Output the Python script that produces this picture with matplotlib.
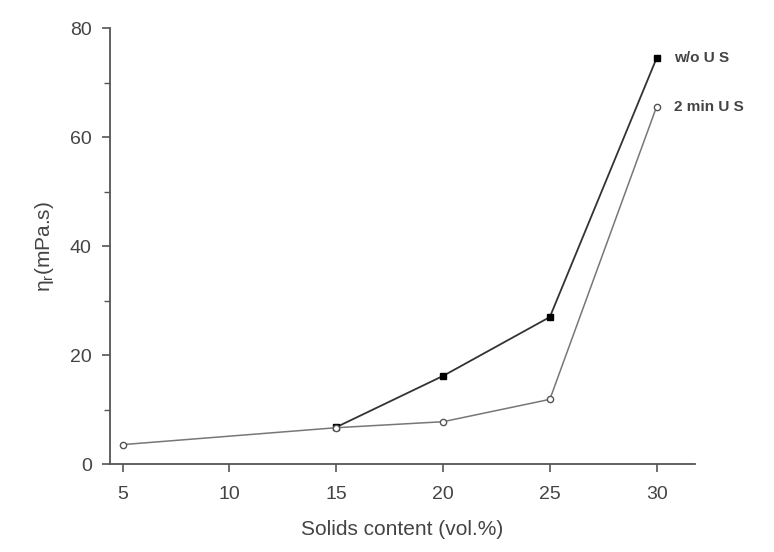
import matplotlib.pyplot as plt

plt.rcParams['font.family'] = ['Liberation Sans', 'DejaVu Sans']
plt.rcParams['mathtext.fontset'] = 'custom'
plt.rcParams['mathtext.rm'] = 'Liberation Sans'

wo_us_x = [15, 20, 25, 30]
wo_us = [6.8, 16.2, 27.0, 74.5]
us2_x = [5, 15, 20, 25, 30]
us2 = [3.6, 6.7, 7.8, 11.9, 65.6]

fig = plt.figure(figsize=(7.74, 5.52), dpi=100)
ax = fig.add_axes([0.142, 0.159, 0.756, 0.790])

ax.plot(wo_us_x, wo_us, color="#333333", lw=1.3, marker="s", ms=4.5,
        mfc="black", mec="black", zorder=2)
ax.plot(us2_x, us2, color="#777777", lw=1.1, marker="o", ms=4.5,
        mfc="white", mec="#555555", mew=1.0, zorder=3)

ax.text(30.8, wo_us[-1], "w/o U S", fontsize=11, fontweight="bold",
        color="#444444", va="center", ha="left")
ax.text(30.8, us2[-1], "2 min U S", fontsize=11, fontweight="bold",
        color="#444444", va="center", ha="left")

ax.set_xlim(4.4, 31.8)
ax.set_ylim(0, 80)
ax.set_xticks([5, 10, 15, 20, 25, 30])
ax.set_yticks([0, 20, 40, 60, 80])
ax.set_yticks([10, 30, 50, 70], minor=True)

for s in ["top", "right"]:
    ax.spines[s].set_visible(False)
for s in ["left", "bottom"]:
    ax.spines[s].set_color("#555555")
    ax.spines[s].set_linewidth(1.3)

ax.tick_params(which="major", direction="out", length=6, width=1.2,
               color="#555555", labelcolor="#444444", labelsize=14)
ax.tick_params(axis="x", which="major", pad=10)
ax.tick_params(axis="y", which="major", pad=7)
ax.tick_params(which="minor", direction="out", length=4, width=1.0, color="#555555")

ax.set_xlabel("Solids content (vol.%)", fontsize=15, color="#444444", labelpad=12)
ax.set_ylabel(r"$\mathrm{\eta_r}$(mPa.s)", fontsize=15, color="#444444", labelpad=10)

fig.savefig("out.png", dpi=100)
